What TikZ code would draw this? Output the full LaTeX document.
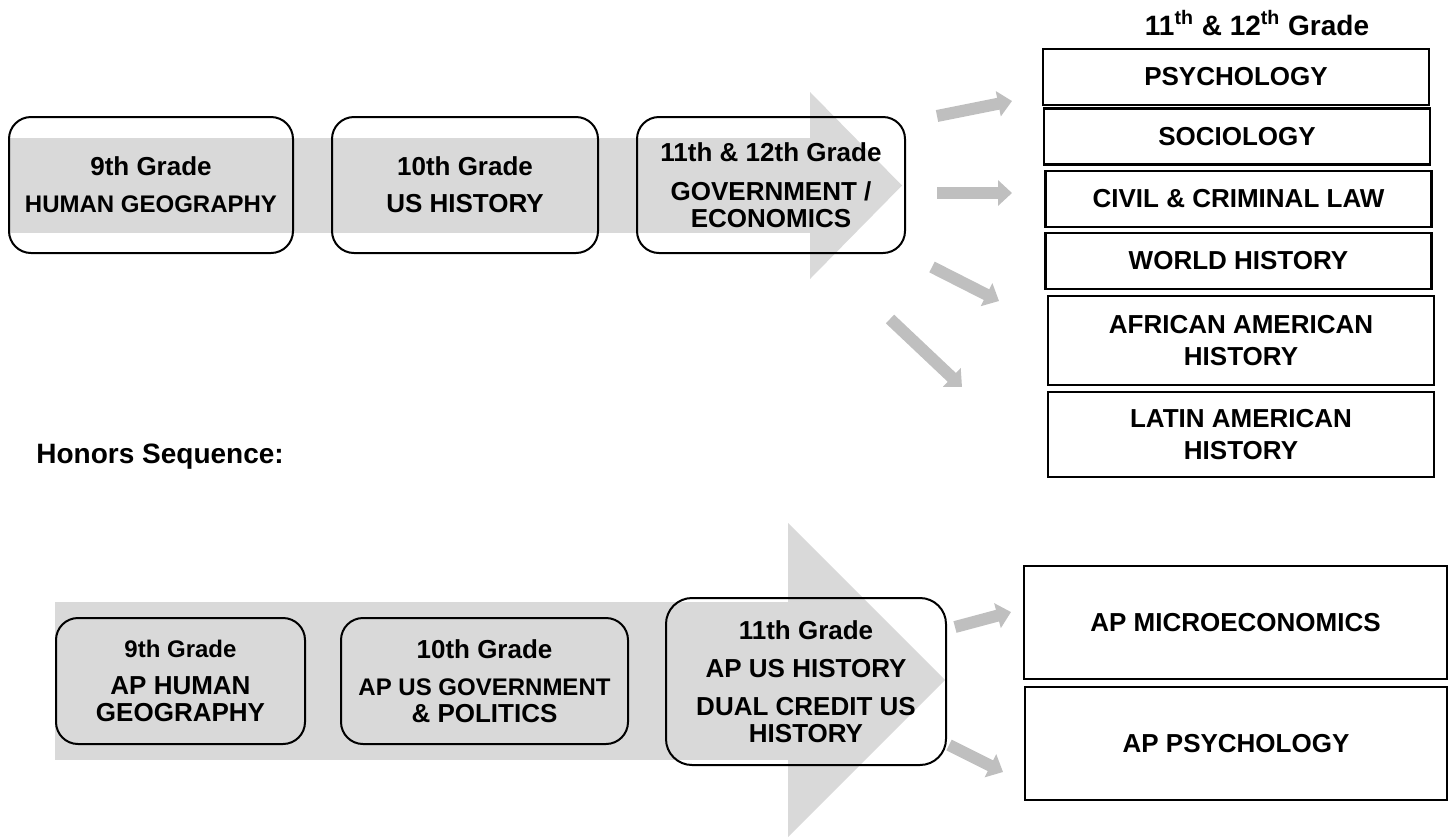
\documentclass[tikz,border=0pt]{standalone}
\usepackage{fontspec}
\setmainfont{Liberation Sans}
\usetikzlibrary{arrows.meta}
\definecolor{bandgray}{HTML}{D9D9D9}
\definecolor{arrowgray}{HTML}{BFBFBF}

\begin{document}
\begin{tikzpicture}[x=0.5pt,y=-0.5pt,
  font=\fontsize{13}{13.5}\selectfont\bfseries,
  grade/.style={draw=black, line width=1pt, rounded corners=11pt, align=center, minimum height=68pt, inner sep=0pt},
  course/.style={draw=black, line width=1.4pt, align=center, minimum width=193pt, minimum height=28pt, inner sep=0pt, font=\fontsize{13}{16}\selectfont\bfseries},
  flow/.style={arrowgray, line width=6pt, -{Triangle[length=7pt,width=12.5pt]}}]

\useasboundingbox (0,0) rectangle (1449,836);

% regular sequence
\fill[bandgray] (9,138) rectangle (810,233);
\fill[bandgray] (810,92) -- (902,185.5) -- (810,279) -- cycle;

\node[grade, minimum width=142pt] (g9) at (151,185) {9th Grade\\[5pt]\fontsize{12}{12.5}\selectfont HUMAN GEOGRAPHY};
\node[grade, minimum width=133pt] (g10) at (465,185) {10th Grade\\[5pt]US HISTORY};
\node[grade, minimum width=134pt] (g1112) at (771,185) {11th \& 12th Grade\\[6pt]GOVERNMENT /\\ECONOMICS};

\node[font=\fontsize{14}{16}\selectfont\bfseries] (hdr) at (1257,23) {11\textsuperscript{th} \& 12\textsuperscript{th} Grade};
\node[course] (psych) at (1236,77) {PSYCHOLOGY};
\node[course] (socio) at (1237,136.5) {SOCIOLOGY};
\node[course] (law) at (1238.5,199) {CIVIL \& CRIMINAL LAW};
\node[course] (world) at (1238.5,261) {WORLD HISTORY};
\node[course, minimum height=44.5pt] (afam) at (1241,340.5) {AFRICAN AMERICAN\\HISTORY};
\node[course, minimum height=42.5pt] (latam) at (1241,434.5) {LATIN AMERICAN\\HISTORY};

\coordinate (a1s) at (937,116);
\coordinate (a1e) at (1012,101);
\coordinate (a2s) at (937,193);
\coordinate (a2e) at (1012,193);
\coordinate (a3s) at (932,267);
\coordinate (a3e) at (999,301);
\coordinate (a4s) at (890,319);
\coordinate (a4e) at (962,387);
\draw[flow] (a1s) -- (a1e);
\draw[flow] (a2s) -- (a2e);
\draw[flow] (a3s) -- (a3e);
\draw[flow] (a4s) -- (a4e);

% honors sequence
\node[anchor=west, inner sep=0pt, font=\fontsize{14}{16}\selectfont\bfseries] (honors) at (36,457) {Honors Sequence:};

\fill[bandgray] (55,602) rectangle (788,760);
\fill[bandgray] (788,523) -- (945,680) -- (788,837) -- cycle;

\node[grade, minimum width=124.5pt, minimum height=63pt] (ap9) at (180.5,681) {\fontsize{12}{12.5}\selectfont 9th Grade\\[5pt]AP HUMAN\\GEOGRAPHY};
\node[grade, minimum width=143.5pt, minimum height=63pt] (ap10) at (484.5,681) {10th Grade\\[5pt]\fontsize{12}{12.5}\selectfont AP US GOVERNMENT\\\& POLITICS};
\node[grade, minimum width=140pt, minimum height=83.5pt, rounded corners=13pt] (ap11) at (806,681.5) {11th Grade\\[5.5pt]AP US HISTORY\\[5.5pt]DUAL CREDIT US\\HISTORY};

\node[course, minimum width=211.5pt, minimum height=56.5pt] (micro) at (1235.5,622.5) {AP MICROECONOMICS};
\node[course, minimum width=211pt, minimum height=56.5pt] (appsy) at (1236,743.5) {AP PSYCHOLOGY};

\coordinate (b1s) at (955,627);
\coordinate (b1e) at (1011,612);
\coordinate (b2s) at (949,745);
\coordinate (b2e) at (1003,772);
\draw[flow] (b1s) -- (b1e);
\draw[flow] (b2s) -- (b2e);

\end{tikzpicture}
\end{document}
